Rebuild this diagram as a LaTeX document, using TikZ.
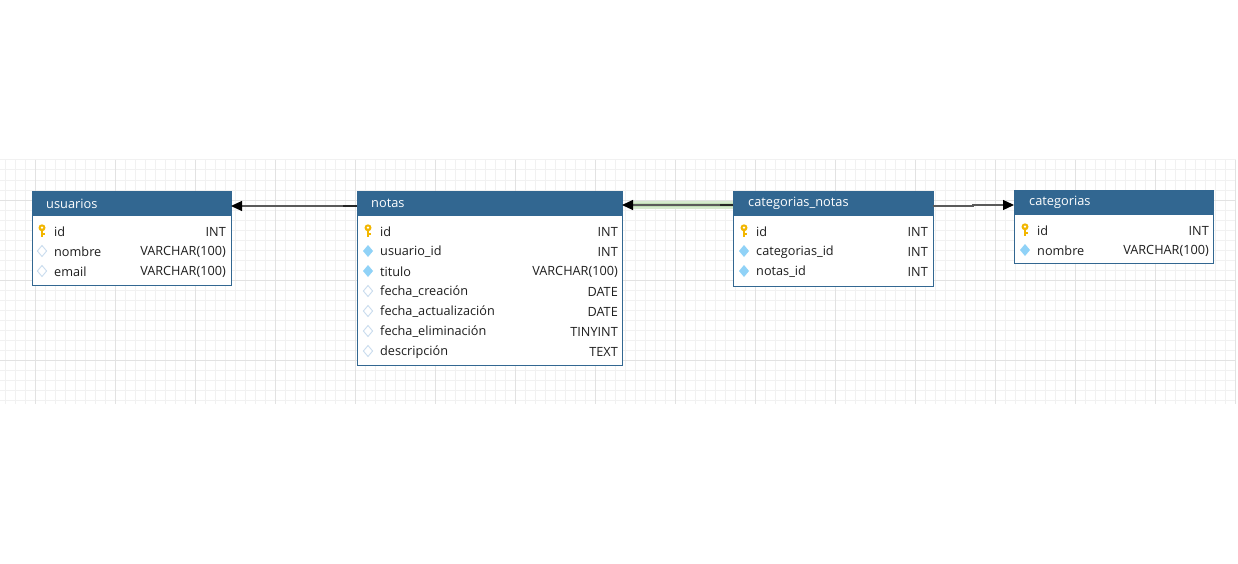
\documentclass[tikz,border=0pt]{standalone}
\usepackage{fontspec}
\setmainfont{Open Sans}
\usetikzlibrary{arrows.meta}
\definecolor{hdrblue}{HTML}{326791}
\definecolor{gridfine}{HTML}{F1F1F1}
\definecolor{gridmajor}{HTML}{E2E2E2}
\definecolor{fieldtxt}{HTML}{1E1E1E}
\definecolor{keygold}{HTML}{F2B600}
\definecolor{fkblue}{HTML}{90D2F7}
\definecolor{nullline}{HTML}{C9DCEE}
\definecolor{relgray}{HTML}{5A5A5A}
\definecolor{glowgreen}{HTML}{D6E9CF}
\definecolor{glowgreen2}{HTML}{BFDDB4}
\tikzset{
  tbl/.style={draw=hdrblue, fill=white, line width=1pt, anchor=north west, inner sep=0pt, outer sep=0pt},
  hdr/.style={draw=hdrblue, fill=hdrblue, line width=1pt, anchor=north west, inner sep=0pt, outer sep=0pt, minimum height=24pt},
  hdrtxt/.style={anchor=west, text=white, inner sep=0pt, yshift=-0.5pt, font=\fontsize{12.8}{14}\selectfont},
  fname/.style={anchor=west, text=fieldtxt, inner sep=0pt, yshift=-1pt, font=\fontsize{12.7}{14}\selectfont},
  ftype/.style={anchor=east, text=fieldtxt, inner sep=0pt, yshift=-1pt, font=\fontsize{12.7}{14}\selectfont},
  rel/.style={draw=relgray, line width=1.2pt, -{Triangle[length=11pt,width=10pt,color=black]}},
  pkey/.pic={
    \fill[keygold] (0,-3.2) circle (3.5);
    \fill[white] (0,-3.4) circle (1.3);
    \fill[keygold] (-1.1,-0.5) rectangle (1.1,6);
    \fill[keygold] (1,2.4) rectangle (2.8,3.9);
  },
  fkdia/.pic={
    \fill[fkblue] (0,-6) -- (5,0) -- (0,6) -- (-5,0) -- cycle;
  },
  nulldia/.pic={
    \draw[nullline, line width=0.9pt, fill=white] (0,-5.5) -- (4.6,0) -- (0,5.5) -- (-4.6,0) -- cycle;
  }
}
\begin{document}
\begin{tikzpicture}[x=1pt,y=-1pt]
\useasboundingbox (0,0) rectangle (1238,564);
% grid
\foreach \gx in {5,15,...,1235} \draw[gridfine, line width=1pt] (\gx,160) -- (\gx,404);
\foreach \gy in {160,170,...,400} \draw[gridfine, line width=1pt] (0,\gy) -- (1236,\gy);
\foreach \gx in {35,115,...,1235} \draw[gridmajor, line width=1pt] (\gx,160) -- (\gx,404);
\foreach \gy in {200,280,360} \draw[gridmajor, line width=1pt] (0,\gy) -- (1236,\gy);

% tables
\node[tbl, minimum width=199pt, minimum height=94pt] (usuarios) at (32,191) {};
\node[hdr, minimum width=199pt] (usuariosH) at (32,191) {};
\node[tbl, minimum width=265pt, minimum height=174pt] (notas) at (357,191) {};
\node[hdr, minimum width=265pt] (notasH) at (357,191) {};
\node[tbl, minimum width=200pt, minimum height=95pt] (catnotas) at (733,191) {};
\node[hdr, minimum width=200pt] (catnotasH) at (733,191) {};
\node[tbl, minimum width=199pt, minimum height=73pt] (categorias) at (1014,190) {};
\node[hdr, minimum width=199pt] (categoriasH) at (1014,190) {};

% relations
\draw[glowgreen, line width=8pt] ([yshift=-2pt]catnotasH.west) -- ([xshift=11pt,yshift=-2pt]notasH.east);
\draw[glowgreen2, line width=4.5pt] ([yshift=-2pt]catnotasH.west) -- ([xshift=11pt,yshift=-2pt]notasH.east);
\draw[rel] ([yshift=-3pt]notasH.west) -- ([yshift=-3pt]usuariosH.east);
\draw[draw=black!85, line width=1.8pt] ([yshift=-3pt]notasH.west) -- ++(-14,0);
\draw[rel] ([yshift=-2pt]catnotasH.west) -- ([yshift=-2pt]notasH.east);
\draw[draw=black!85, line width=1.8pt] ([yshift=-2pt]catnotasH.west) -- ++(-13,0);
\coordinate (bend1) at (973,206);
\coordinate (bend2) at (973,205);
\draw[rel] ([yshift=-3pt]catnotasH.east) -- (bend1) -- (bend2) -- ([yshift=-3pt]categoriasH.east -| categoriasH.west);

% headers text
\node[hdrtxt] (usuariosT) at (46,203) {usuarios};
\node[hdrtxt] (notasT) at (371,203) {notas};
\node[hdrtxt] (catnotasT) at (748,203) {categorias\_notas};
\node[hdrtxt] (categoriasT) at (1029,202) {categorias};

% usuarios fields
\pic at (42,231) {pkey};
\node[fname] (u1) at (54,231) {id};
\node[ftype] (u1t) at (226,231) {INT};
\pic at (42,251) {nulldia};
\node[fname] (u2) at (54,251) {nombre};
\node[ftype] (u2t) at (226,251) {VARCHAR(100)};
\pic at (42,271) {nulldia};
\node[fname] (u3) at (54,271) {email};
\node[ftype] (u3t) at (226,271) {VARCHAR(100)};

% notas fields
\pic at (368,231) {pkey};
\node[fname] (n1) at (380,231) {id};
\node[ftype] (n1t) at (618,231) {INT};
\pic at (368,251) {fkdia};
\node[fname] (n2) at (380,251) {usuario\_id};
\node[ftype] (n2t) at (618,251) {INT};
\pic at (368,271) {fkdia};
\node[fname] (n3) at (380,271) {titulo};
\node[ftype] (n3t) at (618,271) {VARCHAR(100)};
\pic at (368,291) {nulldia};
\node[fname] (n4) at (380,291) {fecha\_creación};
\node[ftype] (n4t) at (618,291) {DATE};
\pic at (368,311) {nulldia};
\node[fname] (n5) at (380,311) {fecha\_actualización};
\node[ftype] (n5t) at (618,311) {DATE};
\pic at (368,331) {nulldia};
\node[fname] (n6) at (380,331) {fecha\_eliminación};
\node[ftype] (n6t) at (618,331) {TINYINT};
\pic at (368,351) {nulldia};
\node[fname] (n7) at (380,351) {descripción};
\node[ftype] (n7t) at (618,351) {TEXT};

% categorias_notas fields
\pic at (744,231) {pkey};
\node[fname] (c1) at (756,231) {id};
\node[ftype] (c1t) at (928,231) {INT};
\pic at (744,251) {fkdia};
\node[fname] (c2) at (756,251) {categorias\_id};
\node[ftype] (c2t) at (928,251) {INT};
\pic at (744,271) {fkdia};
\node[fname] (c3) at (756,271) {notas\_id};
\node[ftype] (c3t) at (928,271) {INT};

% categorias fields
\pic at (1025,230) {pkey};
\node[fname] (k1) at (1037,230) {id};
\node[ftype] (k1t) at (1209,230) {INT};
\pic at (1025,250) {fkdia};
\node[fname] (k2) at (1037,250) {nombre};
\node[ftype] (k2t) at (1209,250) {VARCHAR(100)};
\end{tikzpicture}
\end{document}
